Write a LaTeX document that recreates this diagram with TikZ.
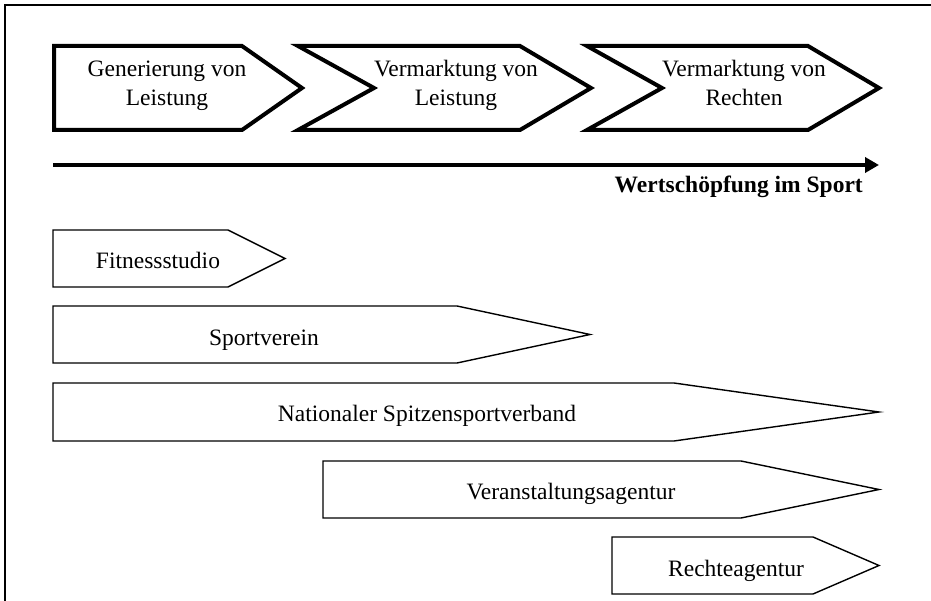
\documentclass[tikz,border=0pt]{standalone}
\usepackage{fontspec}
\setmainfont{Liberation Serif}
\usetikzlibrary{arrows.meta}
\newcommand{\twolines}[2]{\begin{tabular}[t]{@{}c@{}}#1\\#2\end{tabular}}
\begin{document}
\begin{tikzpicture}[x=1pt,y=-1pt,
  frameline/.style={line width=2.5pt},
  phase/.style={draw,line width=4pt,line join=miter,fill=white},
  actor/.style={draw,line width=1.4pt,line join=miter,fill=white},
  lbl/.style={font=\fontsize{23.5}{28.5}\selectfont,inner sep=0pt,anchor=base},
  flow/.style={line width=4pt,-{Triangle[length=14pt,width=15pt]}}]
\useasboundingbox (0,0) rectangle (931,601);

% frame (top and left edges)
\draw[frameline] (5,601) -- (5,5) -- (931,5);

% stages of the value chain
\draw[phase] (54,46) -- (242,46) -- (302,88) -- (242,130) -- (54,130) -- cycle;
\draw[phase] (298,46) -- (520,46) -- (591,88) -- (520,130) -- (298,130) -- (374,88) -- cycle;
\draw[phase] (587,46) -- (808,46) -- (879,88) -- (808,130) -- (587,130) -- (662,88) -- cycle;
\node[lbl] (s1) at (167,77) {\twolines{Generierung von}{Leistung}};
\node[lbl] (s2) at (456,77) {\twolines{Vermarktung von}{Leistung}};
\node[lbl] (s3) at (744,77) {\twolines{Vermarktung von}{Rechten}};

% value-added axis
\coordinate (axA) at (53,165);
\coordinate (axB) at (879,165);
\draw[flow] (axA) -- (axB);
\node[lbl,anchor=base east] (axl) at (863,193) {\textbf{Wertschöpfung im Sport}};

% actors and their coverage of the chain
\draw[actor] (53,230) -- (228,230) -- (285,258.5) -- (228,287) -- (53,287) -- cycle;
\node[lbl] (a1) at (158,269) {Fitnessstudio};

\draw[actor] (53,306) -- (457,306) -- (590,334.5) -- (457,363) -- (53,363) -- cycle;
\node[lbl] (a2) at (264,345) {Sportverein};

\draw[actor] (53,383) -- (674,383) -- (879,412) -- (674,441) -- (53,441) -- cycle;
\node[lbl] (a3) at (427,421) {Nationaler Spitzensportverband};

\draw[actor] (323,461) -- (741,461) -- (879,489.5) -- (741,518) -- (323,518) -- cycle;
\node[lbl] (a4) at (571,499) {Veranstaltungsagentur};

\draw[actor] (612,537) -- (813,537) -- (879,565.5) -- (813,594) -- (612,594) -- cycle;
\node[lbl] (a5) at (736,576) {Rechteagentur};
\end{tikzpicture}
\end{document}
